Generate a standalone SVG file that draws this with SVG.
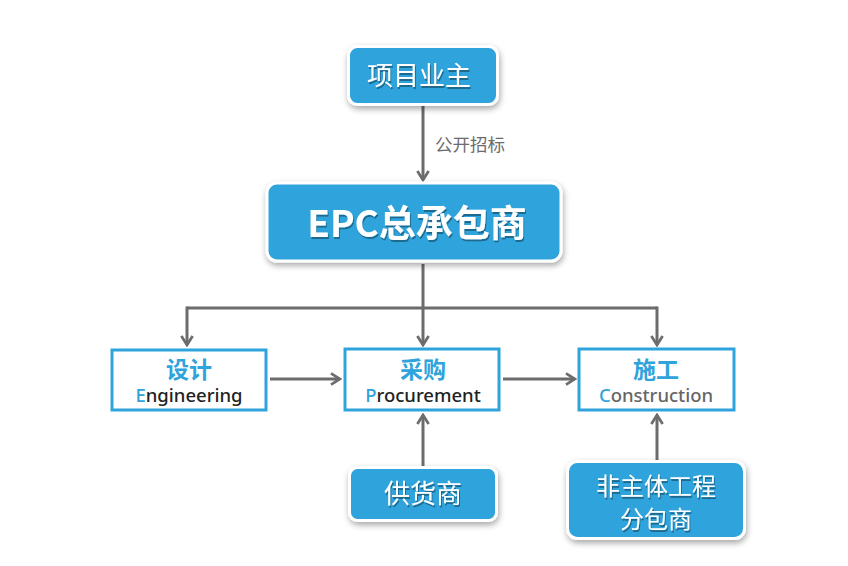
<svg xmlns="http://www.w3.org/2000/svg" width="848" height="566" viewBox="0 0 848 566">
<style>
.blue{fill:#2ea3dc;stroke:#fff;stroke-width:3;filter:url(#sh)}
.wbox{fill:#fff;stroke:#2ea3dc;stroke-width:3}
.wt{fill:#fff;font-family:"Noto Sans CJK SC","Noto Sans",sans-serif;text-anchor:middle;filter:url(#ts)}
.ct{fill:#2ea3dc;font-family:"Noto Sans CJK SC",sans-serif;font-weight:bold;font-size:23px;text-anchor:middle}
.et{font-family:"Noto Sans","Noto Sans CJK SC",sans-serif;font-size:18.5px;text-anchor:middle;font-weight:500}
.cn{fill:none;stroke:#6d6b6d;stroke-width:3}
</style>
<defs>
<filter id="sh" x="-20%" y="-30%" width="140%" height="170%">
<feGaussianBlur in="SourceAlpha" stdDeviation="3"/>
<feOffset dx="1" dy="3"/>
<feComponentTransfer><feFuncA type="linear" slope="0.35"/></feComponentTransfer>
<feMerge><feMergeNode/><feMergeNode in="SourceGraphic"/></feMerge>
</filter>
<filter id="ts" x="-10%" y="-20%" width="120%" height="150%">
<feOffset in="SourceAlpha" dx="1" dy="1.5"/>
<feComponentTransfer><feFuncA type="linear" slope="0.35"/></feComponentTransfer>
<feMerge><feMergeNode/><feMergeNode in="SourceGraphic"/></feMerge>
</filter>
<marker id="ah" viewBox="0 0 12 12" refX="10" refY="6" markerWidth="4.5" markerHeight="4.5" orient="auto" markerUnits="strokeWidth">
<path d="M2,1 L10,6 L2,11" fill="none" stroke="#6d6b6d" stroke-width="2.4"/>
</marker>
</defs>
<rect width="848" height="566" fill="#fff"/>
<g id="connectors">
<line class="cn" x1="423" y1="105" x2="423" y2="180" marker-end="url(#ah)"/>
<text x="435" y="151" font-family="Noto Sans CJK SC,sans-serif" font-size="17.5" fill="#6d6b6d">公开招标</text>
<polyline class="cn" points="423,264 423,308"/>
<polyline class="cn" points="187,308 657,308"/>
<line class="cn" x1="187" y1="306.5" x2="187" y2="345" marker-end="url(#ah)"/>
<line class="cn" x1="423" y1="308" x2="423" y2="345" marker-end="url(#ah)"/>
<line class="cn" x1="657" y1="306.5" x2="657" y2="345" marker-end="url(#ah)"/>
<line class="cn" x1="270" y1="379" x2="340" y2="379" marker-end="url(#ah)"/>
<line class="cn" x1="503" y1="379" x2="575" y2="379" marker-end="url(#ah)"/>
<line class="cn" x1="423" y1="466" x2="423" y2="415" marker-end="url(#ah)"/>
<line class="cn" x1="657" y1="460" x2="657" y2="415" marker-end="url(#ah)"/>
</g>
<g id="owner">
<rect class="blue" x="348.5" y="46.5" width="149" height="58" rx="9"/>
<text class="wt" x="419" y="85" font-size="26">项目业主</text>
</g>
<g id="epc">
<rect class="blue" x="267" y="183" width="294" height="78" rx="10" stroke-width="6"/>
<text class="wt" x="417" y="237" font-size="37" font-weight="bold">EPC总承包商</text>
</g>
<g id="design">
<rect class="wbox" x="112" y="350" width="154" height="60"/>
<text class="ct" x="189" y="378">设计</text>
<text class="et" x="189" y="402" fill="#222"><tspan fill="#2ea3dc">E</tspan>ngineering</text>
</g>
<g id="procure">
<rect class="wbox" x="345" y="349" width="154" height="61"/>
<text class="ct" x="423" y="378">采购</text>
<text class="et" x="423" y="402" fill="#222"><tspan fill="#2ea3dc">P</tspan>rocurement</text>
</g>
<g id="construct">
<rect class="wbox" x="579" y="349" width="155" height="61"/>
<text class="ct" x="656" y="378">施工</text>
<text class="et" x="656" y="402" fill="#666"><tspan fill="#2ea3dc">C</tspan>onstruction</text>
</g>
<g id="supplier">
<rect class="blue" x="349.5" y="467.5" width="147" height="53" rx="8"/>
<text class="wt" x="423" y="503" font-size="26">供货商</text>
</g>
<g id="subcontractor">
<rect class="blue" x="567.5" y="461.5" width="177" height="77" rx="10"/>
<text class="wt" x="656" y="495" font-size="24">非主体工程</text>
<text class="wt" x="656" y="528" font-size="24">分包商</text>
</g>
</svg>
